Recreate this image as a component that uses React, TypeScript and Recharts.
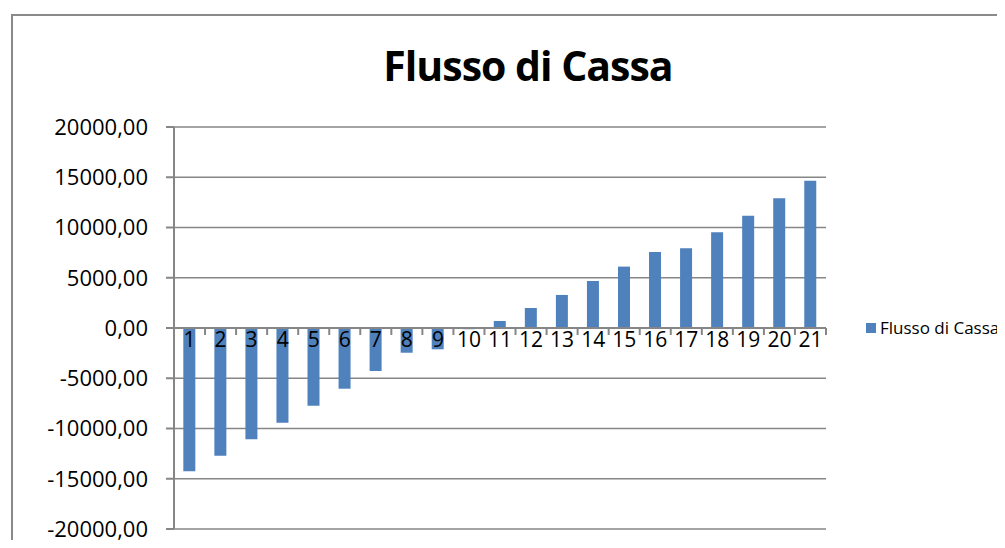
import React from "react";
import {
  BarChart,
  Bar,
  XAxis,
  YAxis,
  CartesianGrid,
  Legend,
  ReferenceLine,
} from "recharts";

const periods = [
  "1", "2", "3", "4", "5", "6", "7", "8", "9", "10", "11",
  "12", "13", "14", "15", "16", "17", "18", "19", "20", "21",
];
const cashFlow = [
  -14250, -12700, -11080, -9420, -7740, -6040, -4280, -2460, -2120, -120, 700,
  1990, 3290, 4680, 6110, 7570, 7940, 9530, 11160, 12920, 14640,
];
const yTicks = [-20000, -15000, -10000, -5000, 0, 5000, 10000, 15000, 20000];

const Y_MIN = -20000;
const Y_MAX = 20000;
const PLOT_TOP = 127;
const PLOT_BOTTOM = 529;
const PLOT_LEFT = 174;
const PLOT_RIGHT = 826;

const FONT = "'Open Sans', 'DejaVu Sans', sans-serif";
const BLUE = "#4f81bd";
const GRAY = "#868686";

const data = periods.map((p, i) => ({ name: p, value: cashFlow[i] }));

const fmt = (v: number) => v.toFixed(2).replace(".", ",");

// category labels sit on the zero line (Excel "next to axis"), not at the bottom
function PeriodTick(props: any) {
  const { x, y, payload } = props;
  const plotH = PLOT_BOTTOM - PLOT_TOP;
  const zeroY = y - (plotH * (0 - Y_MIN)) / (Y_MAX - Y_MIN);
  const band = (PLOT_RIGHT - PLOT_LEFT) / periods.length;
  return (
    <g>
      <line x1={x + band / 2} x2={x + band / 2} y1={zeroY} y2={zeroY + 7} stroke={GRAY} strokeWidth={2} />
      <text
        x={x}
        y={zeroY + 19}
        textAnchor="middle"
        fontFamily={FONT}
        fontSize={21}
        fill="#000"
      >
        {payload.value}
      </text>
    </g>
  );
}

function LegendBox() {
  return (
    <div style={{ display: "flex", alignItems: "center", fontFamily: FONT, fontSize: 17, whiteSpace: "nowrap" }}>
      <span style={{ display: "inline-block", width: 10, height: 10, background: BLUE, marginRight: 4 }} />
      Flusso di Cassa
    </div>
  );
}

export default function App() {
  return (
    <div style={{ position: "relative", width: 1005, height: 548, margin: -8, overflow: "hidden", background: "#fff" }}>
      <div
        style={{
          position: "absolute",
          left: 11,
          top: 14,
          width: 1100,
          height: 700,
          border: "2px solid #8a8a8a",
        }}
      />
      <div
        style={{
          position: "absolute",
          left: 0,
          width: 1056,
          top: 37,
          textAlign: "center",
          fontFamily: FONT,
          fontWeight: 700,
          fontSize: 41,
          letterSpacing: -1,
          color: "#000",
        }}
      >
        Flusso di Cassa
      </div>
      <div style={{ position: "absolute", left: 0, top: 0 }}>
        <BarChart
          width={1005}
          height={548}
          data={data}
          margin={{ top: PLOT_TOP, right: 1005 - PLOT_RIGHT, bottom: 0, left: 0 }}
          barCategoryGap="30%"
        >
          <CartesianGrid vertical={false} stroke={GRAY} strokeWidth={1.5} />
          <XAxis
            dataKey="name"
            height={548 - PLOT_BOTTOM}
            axisLine={false}
            tickLine={false}
            tickSize={0}
            tickMargin={0}
            interval={0}
            tick={<PeriodTick />}
          />
          <YAxis
            width={PLOT_LEFT}
            domain={[Y_MIN, Y_MAX]}
            ticks={yTicks}
            interval={0}
            tickFormatter={fmt}
            axisLine={{ stroke: GRAY, strokeWidth: 2 }}
            tickLine={{ stroke: GRAY, strokeWidth: 2 }}
            tickSize={8}
            tickMargin={18}
            tick={{ fontFamily: FONT, fontSize: 22, fill: "#000" }}
          />
          <ReferenceLine y={0} stroke={GRAY} strokeWidth={2} />
          <Bar dataKey="value" fill={BLUE} isAnimationActive={false} />
          <Legend
            layout="horizontal"
            verticalAlign="middle"
            align="center"
            content={<LegendBox />}
            wrapperStyle={{ left: 866, top: 316, width: 160 }}
          />
        </BarChart>
      </div>
    </div>
  );
}
